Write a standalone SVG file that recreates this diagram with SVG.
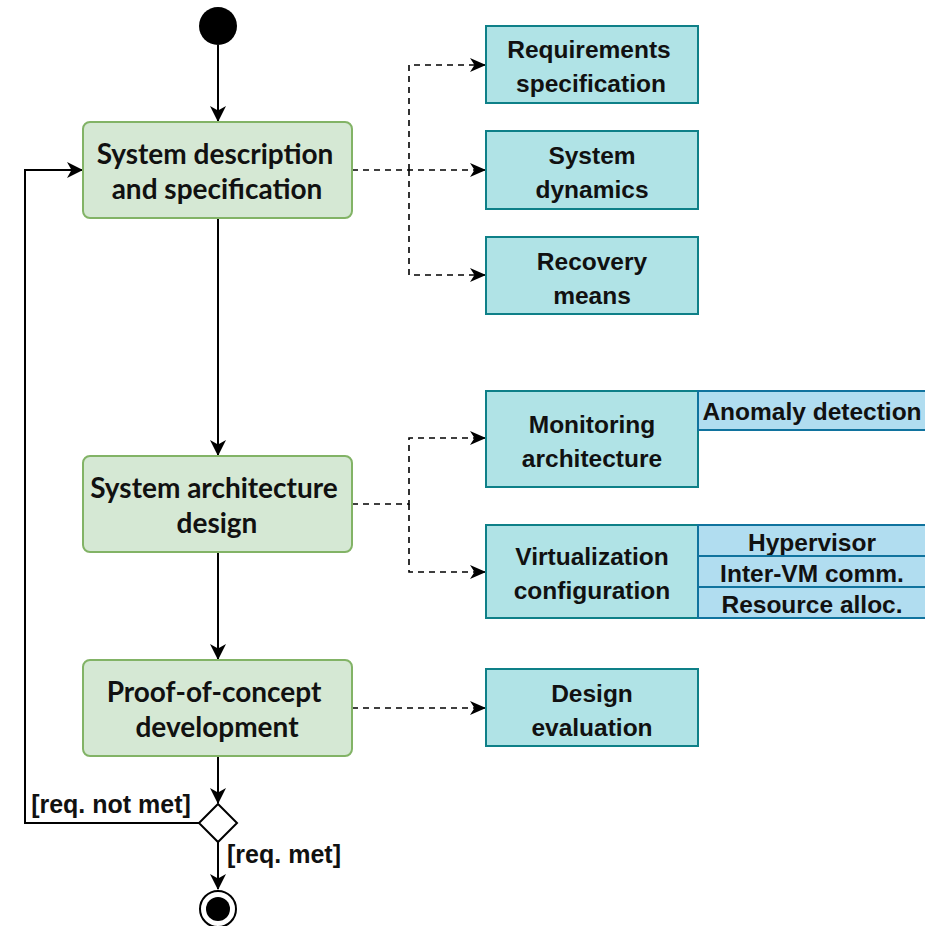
<svg xmlns="http://www.w3.org/2000/svg" width="925" height="926" viewBox="0 0 925 926">
  <style>
    .act { fill: #d5e8d4; stroke: #82b366; stroke-width: 2; }
    .art { fill: #b0e3e6; stroke: #0e8088; stroke-width: 2; }
    .sub { fill: #b1ddf0; stroke: #10739e; stroke-width: 2; }
    .ta { font-family: Lato, "Open Sans", sans-serif; font-weight: bold; font-size: 28px; fill: #111; text-anchor: middle; }
    .tb { font-family: "Liberation Sans", Arial, sans-serif; font-weight: bold; font-size: 24.5px; fill: #111; text-anchor: middle; }
    .guard { font-size: 25px; }
    .flow { fill: none; stroke: #000; stroke-width: 2; }
    .dep { fill: none; stroke: #000; stroke-width: 1.6; stroke-dasharray: 6 5; }
  </style>
  <defs>
    <marker id="arr" viewBox="0 0 16 14" refX="15" refY="7" markerWidth="16" markerHeight="14" markerUnits="userSpaceOnUse" orient="auto">
      <path d="M0,0 L16,7 L0,14 L4.5,7 Z" fill="#000"/>
    </marker>
    <marker id="arrB" viewBox="0 0 16 16" refX="15" refY="8" markerWidth="16" markerHeight="16" markerUnits="userSpaceOnUse" orient="auto">
      <path d="M0,0 L16,8 L0,16 L4.5,8 Z" fill="#000"/>
    </marker>
  </defs>

  <g id="connectors">
    <path class="flow" d="M218,45 V121" marker-end="url(#arrB)"/>
    <path class="flow" d="M218,218 V455" marker-end="url(#arrB)"/>
    <path class="flow" d="M218,552 V659" marker-end="url(#arrB)"/>
    <path class="flow" d="M218,756 V803" marker-end="url(#arrB)"/>
    <path class="flow" d="M218,842 V889" marker-end="url(#arrB)"/>
    <path class="flow" d="M199,823 H25 V170 H82" marker-end="url(#arrB)"/>
    <path class="dep" d="M352,170 H485" marker-end="url(#arr)"/>
    <path class="dep" d="M409,170 V65 H485" marker-end="url(#arr)"/>
    <path class="dep" d="M409,170 V275 H485" marker-end="url(#arr)"/>
    <path class="dep" d="M352,504 H409 V438 H485" marker-end="url(#arr)"/>
    <path class="dep" d="M409,504 V572 H485" marker-end="url(#arr)"/>
    <path class="dep" d="M352,708 H485" marker-end="url(#arr)"/>
  </g>

  <g id="start">
    <circle cx="218" cy="26" r="19" fill="#000"/>
  </g>

  <g id="sys-desc">
    <rect class="act" x="83" y="122" width="269" height="96" rx="7"/>
    <text class="ta" x="215" y="164">System description</text>
    <text class="ta" x="217" y="199">and specification</text>
  </g>

  <g id="sys-arch">
    <rect class="act" x="83" y="456" width="269" height="96" rx="7"/>
    <text class="ta" x="214" y="498">System architecture</text>
    <text class="ta" x="217" y="533">design</text>
  </g>

  <g id="poc">
    <rect class="act" x="83" y="660" width="269" height="96" rx="7"/>
    <text class="ta" x="214" y="702">Proof-of-concept</text>
    <text class="ta" x="217" y="737">development</text>
  </g>

  <g id="req-spec">
    <rect class="art" x="486" y="26" width="212" height="77"/>
    <text class="tb" x="589" y="58">Requirements</text>
    <text class="tb" x="591" y="92">specification</text>
  </g>

  <g id="sys-dyn">
    <rect class="art" x="486" y="131" width="212" height="78"/>
    <text class="tb" x="592" y="164">System</text>
    <text class="tb" x="592" y="198">dynamics</text>
  </g>

  <g id="recovery">
    <rect class="art" x="486" y="237" width="212" height="77"/>
    <text class="tb" x="592" y="270">Recovery</text>
    <text class="tb" x="592" y="304">means</text>
  </g>

  <g id="monitoring">
    <rect class="art" x="486" y="391" width="212" height="96"/>
    <text class="tb" x="592" y="433">Monitoring</text>
    <text class="tb" x="592" y="467">architecture</text>
    <rect class="sub" x="698" y="391" width="232" height="39"/>
    <text class="tb" x="812" y="420">Anomaly detection</text>
  </g>

  <g id="virtualization">
    <rect class="art" x="486" y="525" width="212" height="93"/>
    <text class="tb" x="592" y="565">Virtualization</text>
    <text class="tb" x="592" y="599">configuration</text>
    <rect class="sub" x="698" y="525" width="232" height="31"/>
    <text class="tb" x="812" y="551">Hypervisor</text>
    <rect class="sub" x="698" y="556" width="232" height="31"/>
    <text class="tb" x="812" y="582">Inter-VM comm.</text>
    <rect class="sub" x="698" y="587" width="232" height="31"/>
    <text class="tb" x="812" y="613">Resource alloc.</text>
  </g>

  <g id="design-eval">
    <rect class="art" x="486" y="669" width="212" height="77"/>
    <text class="tb" x="592" y="702">Design</text>
    <text class="tb" x="592" y="736">evaluation</text>
  </g>

  <g id="decision">
    <path d="M218,804 L237,823 L218,842 L199,823 Z" fill="#fff" stroke="#000" stroke-width="2"/>
    <text class="tb guard" x="111" y="813">[req. not met]</text>
    <text class="tb guard" x="284" y="863">[req. met]</text>
  </g>

  <g id="end">
    <circle cx="218" cy="909" r="18" fill="#fff" stroke="#000" stroke-width="2"/>
    <circle cx="218" cy="909" r="12" fill="#000"/>
  </g>
</svg>
